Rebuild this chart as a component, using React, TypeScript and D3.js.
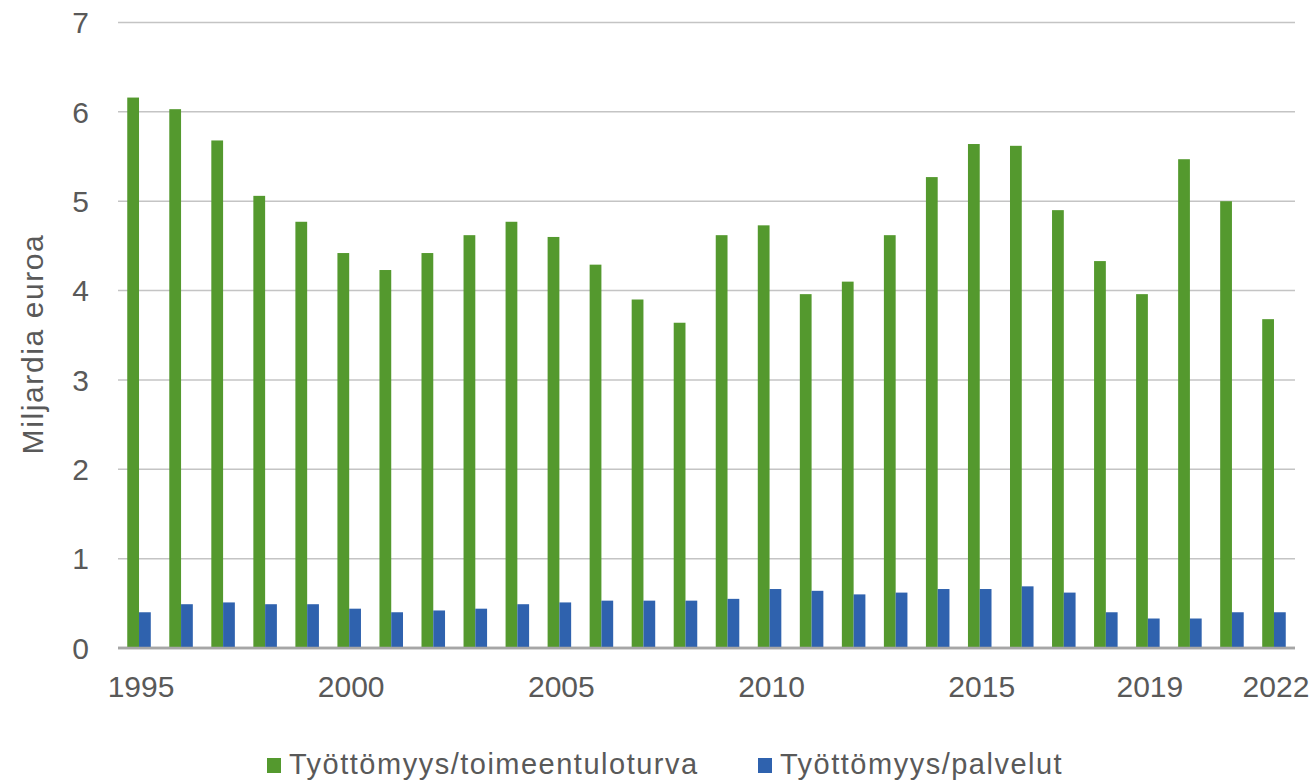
import { useEffect } from "react";
import * as d3 from "d3";

const years = [
  1995, 1996, 1997, 1998, 1999, 2000, 2001, 2002, 2003, 2004, 2005, 2006, 2007, 2008,
  2009, 2010, 2011, 2012, 2013, 2014, 2015, 2016, 2017, 2018, 2019, 2020, 2021, 2022,
];
// Työttömyys/toimeentuloturva
const toimeentuloturva = [
  6.16, 6.03, 5.68, 5.06, 4.77, 4.42, 4.23, 4.42, 4.62, 4.77, 4.6, 4.29, 3.9, 3.64,
  4.62, 4.73, 3.96, 4.1, 4.62, 5.27, 5.64, 5.62, 4.9, 4.33, 3.96, 5.47, 5.0, 3.68,
];
// Työttömyys/palvelut
const palvelut = [
  0.4, 0.49, 0.51, 0.49, 0.49, 0.44, 0.4, 0.42, 0.44, 0.49, 0.51, 0.53, 0.53, 0.53,
  0.55, 0.66, 0.64, 0.6, 0.62, 0.66, 0.66, 0.69, 0.62, 0.4, 0.33, 0.33, 0.4, 0.4,
];
const seriesNames = ["Työttömyys/toimeentuloturva", "Työttömyys/palvelut"];
const yTicks = [0, 1, 2, 3, 4, 5, 6, 7];
// x labels shown (note 2019, not 2020)
const xTickLabels = [1995, 2000, 2005, 2010, 2015, 2019, 2022];

const W = 1315;
const H = 784;
const GREEN = "#54992E";
const BLUE = "#2F62AE";
const TEXT = "#595959";
const FONT = "'Liberation Sans', Arial, sans-serif";

export default function App() {
  useEffect(() => {
    document.body.style.margin = "0";
  }, []);

  const x = d3
    .scaleBand<number>()
    .domain(years)
    .range([118, 1295])
    .paddingInner(0.44)
    .paddingOuter(0.22);
  const sub = d3
    .scaleBand<number>()
    .domain([0, 1])
    .range([0, x.bandwidth()]);
  const y = d3.scaleLinear().domain([0, 7]).range([648, 22.5]);

  const series = [toimeentuloturva, palvelut];
  const colors = [GREEN, BLUE];

  return (
    <svg width={W} height={H} style={{ display: "block", background: "#fff" }}>
      {/* gridlines */}
      {yTicks.map((t) => (
        <line
          key={t}
          x1={118}
          x2={1295}
          y1={y(t)}
          y2={y(t)}
          stroke={t === 0 ? "#A6A6A6" : "#C4C4C4"}
          strokeWidth={t === 0 ? 2.5 : 1.5}
        />
      ))}
      {/* y tick labels */}
      {yTicks.map((t) => (
        <text
          key={t}
          x={89}
          y={y(t)}
          dy="0.36em"
          textAnchor="end"
          fontFamily={FONT}
          fontSize={30}
          fill={TEXT}
        >
          {t}
        </text>
      ))}
      <text
        transform={`translate(43, 344) rotate(-90)`}
        textAnchor="middle"
        fontFamily={FONT}
        fontSize={30}
        letterSpacing={1.6}
        fill={TEXT}
      >
        Miljardia euroa
      </text>

      {/* bars */}
      {series.map((vals, si) =>
        vals.map((v, i) => (
          <rect
            key={`${si}-${i}`}
            x={(x(years[i]) ?? 0) + (sub(si) ?? 0)}
            y={y(v)}
            width={sub.bandwidth()}
            height={y(0) - y(v)}
            fill={colors[si]}
          />
        ))
      )}
      {/* redraw baseline on top */}
      <line x1={118} x2={1295} y1={y(0)} y2={y(0)} stroke="#A6A6A6" strokeWidth={2.5} />

      {/* x tick labels */}
      {xTickLabels.map((yr) => (
        <text
          key={yr}
          x={(x(yr) ?? 0) + x.bandwidth() / 2 + 2}
          y={697}
          textAnchor="middle"
          fontFamily={FONT}
          fontSize={30}
          fill={TEXT}
        >
          {yr}
        </text>
      ))}

      {/* legend */}
      {seriesNames.map((name, i) => {
        const lx = [267, 758][i];
        return (
          <g key={name}>
            <rect x={lx} y={758} width={14} height={15} fill={colors[i]} />
            <text
              x={lx + 22}
              y={774}
              fontFamily={FONT}
              fontSize={29}
              letterSpacing={1.5}
              fill={TEXT}
            >
              {name}
            </text>
          </g>
        );
      })}
    </svg>
  );
}
